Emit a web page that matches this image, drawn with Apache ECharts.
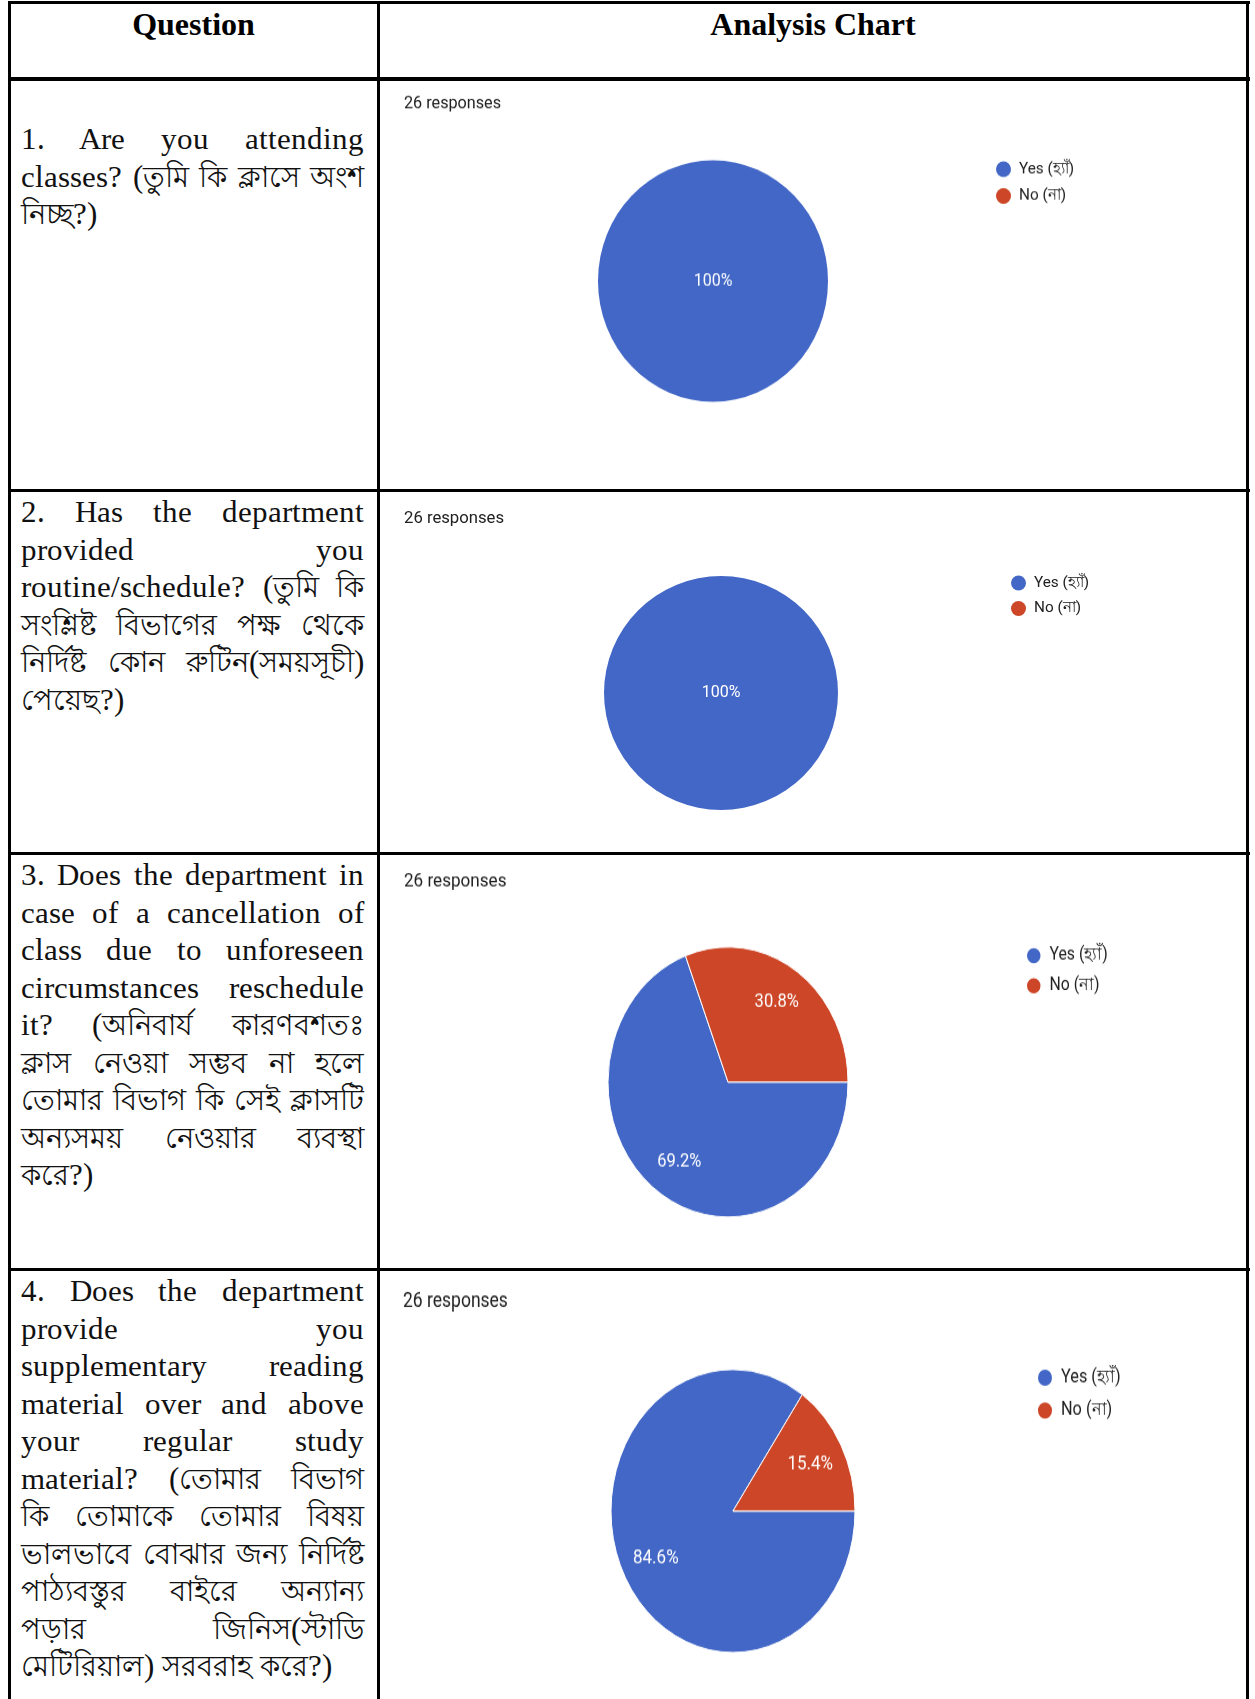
<!DOCTYPE html>
<html>
<head>
<meta charset="utf-8">
<script src="https://cdn.jsdelivr.net/npm/echarts@6/dist/echarts.min.js"></script>
<style>
@font-face{font-family:"QLatin";src:local("Liberation Serif"),local("LiberationSerif");unicode-range:U+0000-024F;size-adjust:105.5%;}
html,body{margin:0;padding:0;background:#fff;}
body{width:1255px;height:1699px;overflow:hidden;position:relative;}
.line{position:absolute;background:#000;}
.hdr{position:absolute;top:5px;height:38px;line-height:38px;font-family:"Liberation Serif","Times New Roman",serif;font-weight:bold;font-size:32px;text-align:center;color:#000;}
.q{position:absolute;left:21px;width:343px;font-family:"QLatin","Liberation Serif","Times New Roman",serif;font-size:29px;line-height:37.5px;color:#111;}
.q div{text-align:justify;text-align-last:justify;height:37.5px;overflow:visible;}
.q div.last{text-align-last:left;}
.wrap{position:absolute;left:381px;width:866px;overflow:hidden;}
.chart{position:absolute;left:0;top:0;width:866px;transform-origin:0 0;}
</style>
</head>
<body>
<script>
// ---------------- DATA ----------------
const headerLabels = ['Question', 'Analysis Chart'];
const categories = ['Yes (হ্যাঁ)', 'No (না)'];
const responsesLabel = '26 responses';
const q1Values = [26, 0];
const q2Values = [26, 0];
const q3Values = [18, 8];
const q4Values = [22, 4];
const q1Lines = ['1. Are you attending', 'classes? (তুমি কি ক্লাসে অংশ', 'নিচ্ছ?)'];
const q2Lines = ['2. Has the department', 'provided you', 'routine/schedule? (তুমি কি', 'সংশ্লিষ্ট বিভাগের পক্ষ থেকে', 'নির্দিষ্ট কোন রুটিন(সময়সূচী)', 'পেয়েছ?)'];
const q3Lines = ['3. Does the department in', 'case of a cancellation of', 'class due to unforeseen', 'circumstances reschedule', 'it? (অনিবার্য কারণবশতঃ', 'ক্লাস নেওয়া সম্ভব না হলে', 'তোমার বিভাগ কি সেই ক্লাসটি', 'অন্যসময় নেওয়ার ব্যবস্থা', 'করে?)'];
const q4Lines = ['4. Does the department', 'provide you', 'supplementary reading', 'material over and above', 'your regular study', 'material? (তোমার বিভাগ', 'কি তোমাকে তোমার বিষয়', 'ভালভাবে বোঝার জন্য নির্দিষ্ট', 'পাঠ্যবস্তুর বাইরে অন্যান্য', 'পড়ার জিনিস(স্টাডি', 'মেটিরিয়াল) সরবরাহ করে?)'];
const sliceColors = ['#4267c6', '#cc4627'];

// ---------------- LAYOUT ----------------
function addLine(x, y, w, h) {
  const d = document.createElement('div');
  d.className = 'line';
  d.style.left = x + 'px'; d.style.top = y + 'px';
  d.style.width = w + 'px'; d.style.height = h + 'px';
  document.body.appendChild(d);
}
addLine(8, 1, 1242, 3);      // top
addLine(8, 1, 3, 1698);      // left
addLine(1246, 1, 3, 1698);   // right
addLine(377, 1, 3, 1698);    // column divider
addLine(8, 77, 1242, 4);     // header bottom
addLine(8, 489, 1242, 3);
addLine(8, 852, 1242, 3);
addLine(8, 1268, 1242, 3);

function addHeader(text, left, width) {
  const d = document.createElement('div');
  d.className = 'hdr';
  d.style.left = left + 'px'; d.style.width = width + 'px';
  d.textContent = text;
  document.body.appendChild(d);
}
addHeader(headerLabels[0], 10, 367);
addHeader(headerLabels[1], 380, 866);

function addQuestion(lines, top) {
  const q = document.createElement('div');
  q.className = 'q';
  q.style.top = top + 'px';
  lines.forEach((t, i) => {
    const l = document.createElement('div');
    if (i === lines.length - 1) l.className = 'last';
    l.textContent = t;
    q.appendChild(l);
  });
  document.body.appendChild(q);
}
addQuestion(q1Lines, 121);
addQuestion(q2Lines, 494);
addQuestion(q3Lines, 857);
addQuestion(q4Lines, 1273);

// ---------------- CHARTS ----------------
const FONT = 'Roboto, "Noto Sans", Arial, sans-serif';
function makeChart(values, cfg) {
  const wrap = document.createElement('div');
  wrap.className = 'wrap';
  wrap.style.top = cfg.top + 'px';
  wrap.style.height = cfg.h + 'px';
  const el = document.createElement('div');
  el.className = 'chart';
  el.style.height = (cfg.h / cfg.s) + 'px';
  el.style.transform = 'scaleY(' + cfg.s + ')';
  wrap.appendChild(el);
  document.body.appendChild(wrap);
  const chart = echarts.init(el, null, {renderer: 'canvas'});
  const total = values.reduce((a, b) => a + b, 0);
  const mainData = categories.map((c, i) => ({
    name: c, value: values[i],
    itemStyle: {color: sliceColors[i], borderColor: '#fff', borderWidth: (values[i] > 0 && values[i] < total) ? 1 : 0}
  }));
  const labelData = categories.map((c, i) => ({
    name: c, value: values[i],
    label: values[i] === 0 ? {show: false} : (values[i] === total ? {show: true, position: 'center'} : {show: true, position: 'inside'})
  }));
  chart.setOption({
    animation: false,
    title: {
      text: responsesLabel, left: cfg.titleX, top: cfg.titleY - cfg.fs / 2, padding: 0,
      textStyle: {fontFamily: FONT, fontSize: cfg.fs, fontWeight: 'normal', color: '#212121', lineHeight: cfg.fs}
    },
    legend: {
      orient: 'vertical', left: cfg.legX, top: cfg.legY - cfg.dot / 2,
      icon: 'circle', itemWidth: cfg.dot, itemHeight: cfg.dot, itemGap: cfg.legGap - cfg.dot,
      padding: 0,
      textStyle: {fontFamily: FONT, fontSize: cfg.lfs, color: '#212121', lineHeight: cfg.dot, padding: [0, 0, 0, 3]},
      data: categories
    },
    series: [
      {
        type: 'pie', center: [cfg.cx, cfg.cy], radius: cfg.r, startAngle: 0, clockwise: true,
        silent: true, label: {show: false}, labelLine: {show: false}, data: mainData
      },
      {
        type: 'pie', center: [cfg.cx, cfg.cy], radius: cfg.r * 1.38, startAngle: 0, clockwise: true,
        silent: true, itemStyle: {color: 'rgba(0,0,0,0)', borderWidth: 0},
        labelLine: {show: false},
        label: {
          color: '#fff', fontFamily: FONT, fontSize: cfg.pfs,
          formatter: p => (p.percent >= 100 ? '100' : p.percent.toFixed(1)) + '%'
        },
        data: labelData
      }
    ]
  });
}

makeChart(q1Values, {top: 81, h: 408, s: 1.05, cx: 332, cy: 190.5, r: 115, titleX: 23, titleY: 21.9, fs: 16.2,
  legX: 615, legY: 84, legGap: 25.5, dot: 15, lfs: 15.3, pfs: 16});
makeChart(q2Values, {top: 492, h: 360, s: 1.0, cx: 340, cy: 201, r: 117, titleX: 23, titleY: 27, fs: 16.7,
  legX: 630, legY: 91, legGap: 25.5, dot: 15, lfs: 15.3, pfs: 16});
makeChart(q3Values, {top: 855, h: 413, s: 1.125, cx: 347, cy: 201.8, r: 120, titleX: 23, titleY: 23.5, fs: 17.1,
  legX: 644, legY: 88.5, legGap: 24.7, dot: 15.5, lfs: 15.8, pfs: 16.5});
makeChart(q4Values, {top: 1271, h: 428, s: 1.16, cx: 352, cy: 206.9, r: 122, titleX: 22, titleY: 27, fs: 17.5,
  legX: 655, legY: 91, legGap: 26.2, dot: 16, lfs: 16.3, pfs: 17});
</script>
</body>
</html>
